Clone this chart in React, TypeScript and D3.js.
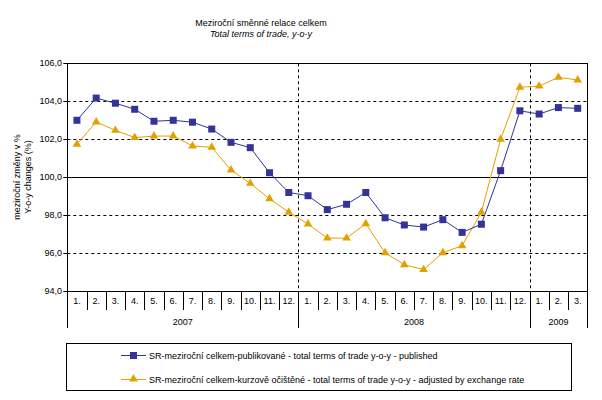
import React from "react";
import * as d3 from "d3";

const months = ["1.", "2.", "3.", "4.", "5.", "6.", "7.", "8.", "9.", "10.", "11.", "12.",
  "1.", "2.", "3.", "4.", "5.", "6.", "7.", "8.", "9.", "10.", "11.", "12.",
  "1.", "2.", "3."];
const years = [
  { label: "2007", start: 0, count: 12 },
  { label: "2008", start: 12, count: 12 },
  { label: "2009", start: 24, count: 3 },
];
const published = [103.0, 104.17, 103.9, 103.58, 102.95, 103.0, 102.9, 102.54, 101.84, 101.56, 100.24, 99.2,
  99.03, 98.3, 98.58, 99.2, 97.87, 97.49, 97.38, 97.77, 97.1, 97.53, 100.35, 103.5,
  103.33, 103.67, 103.63];
const adjusted = [101.74, 102.91, 102.47, 102.09, 102.17, 102.17, 101.65, 101.58, 100.38, 99.68, 98.87, 98.16,
  97.54, 96.8, 96.8, 97.56, 96.03, 95.4, 95.14, 96.03, 96.4, 98.16, 102.0, 104.74,
  104.8, 105.26, 105.12];
const yTicks = [94, 96, 98, 100, 102, 104, 106];
const seriesNames = [
  "SR-meziroční celkem-publikované - total terms of trade y-o-y - published",
  "SR-meziroční celkem-kurzově očištěné - total terms of trade y-o-y - adjusted by exchange rate",
];

const BLUE = "#333399";
const ORANGE = "#E3A100";
const FONT = "'Liberation Sans', Arial, sans-serif";

export default function App() {
  const W = 602, H = 400;
  const left = 67.3, right = 587.3, top = 63.3, bottom = 291.3;
  const x = d3.scaleBand<number>().domain(d3.range(months.length)).range([left, right]).padding(0);
  const y = d3.scaleLinear().domain([94, 106]).range([bottom, top]);
  const cx = (i: number) => (x(i) as number) + x.bandwidth() / 2;
  const line = d3.line<number>().x((_, i) => cx(i)).y((d) => y(d));
  const tri = d3.symbol().type(d3.symbolTriangle).size(32)();

  return (
    <svg width={W} height={H} style={{ position: "absolute", left: 0, top: 0, background: "#fff" }} fontFamily={FONT}>
      <rect x={0} y={0} width={W} height={H} fill="#fff" />
      <text x={261} y={26} textAnchor="middle" fontSize={9}>Meziroční směnné relace celkem</text>
      <text x={261} y={37} textAnchor="middle" fontSize={9} fontStyle="italic">Total terms of trade, y-o-y</text>

      {/* gridlines */}
      {yTicks.filter((t) => t !== 94 && t !== 106).map((t) => (
        <line key={t} x1={left} x2={right} y1={Math.round(y(t)) + 0.5} y2={Math.round(y(t)) + 0.5}
          stroke="#000" strokeWidth={1} strokeDasharray={t === 100 ? undefined : "3,3"} />
      ))}
      {/* year separators in plot */}
      {years.slice(1).map((yr) => (
        <line key={yr.label} x1={Math.round(x(yr.start) as number) + 0.5} x2={Math.round(x(yr.start) as number) + 0.5}
          y1={top} y2={bottom} stroke="#000" strokeDasharray="3,3" />
      ))}
      {/* plot border */}
      <rect x={Math.round(left) + 0.5} y={Math.round(top) + 0.5} width={Math.round(right - left)} height={Math.round(bottom - top)}
        fill="none" stroke="#000" strokeWidth={1} />

      {/* y axis ticks and labels */}
      {yTicks.map((t) => (
        <g key={t}>
          <line x1={left - 4} x2={left} y1={Math.round(y(t)) + 0.5} y2={Math.round(y(t)) + 0.5} stroke="#000" />
          <text x={62} y={y(t) + 3} textAnchor="end" fontSize={9}>{d3.format(".1f")(t).replace(".", ",")}</text>
        </g>
      ))}
      <g transform={`translate(20,177) rotate(-90)`}>
        <text textAnchor="middle" fontSize={9}>meziroční změny v %</text>
        <text y={11} textAnchor="middle" fontSize={9}>Y-o-y changes (%)</text>
      </g>

      {/* category axis */}
      {months.map((m, i) => (
        <g key={i}>
          <line x1={Math.round(x(i) as number) + 0.5} x2={Math.round(x(i) as number) + 0.5} y1={bottom} y2={310} stroke="#000" />
          <text x={cx(i)} y={304} textAnchor="middle" fontSize={9}>{m}</text>
        </g>
      ))}
      <line x1={Math.round(right) + 0.5} x2={Math.round(right) + 0.5} y1={bottom} y2={328} stroke="#000" />
      {years.map((yr) => {
        const x0 = x(yr.start) as number;
        const x1 = yr.start + yr.count >= months.length ? right : (x(yr.start + yr.count) as number);
        return (
          <g key={yr.label}>
            <line x1={Math.round(x0) + 0.5} x2={Math.round(x0) + 0.5} y1={bottom} y2={328} stroke="#000" />
            <text x={(x0 + x1) / 2} y={325} textAnchor="middle" fontSize={9}>{yr.label}</text>
          </g>
        );
      })}

      {/* series */}
      <path d={line(adjusted) || ""} fill="none" stroke={ORANGE} strokeWidth={1} />
      <path d={line(published) || ""} fill="none" stroke={BLUE} strokeWidth={1} />
      {adjusted.map((v, i) => (
        <path key={i} d={tri || ""} transform={`translate(${cx(i)},${y(v)})`} fill={ORANGE} />
      ))}
      {published.map((v, i) => (
        <rect key={i} x={cx(i) - 3.5} y={y(v) - 3.5} width={7} height={7} fill={BLUE} />
      ))}

      {/* legend */}
      <rect x={66.5} y={343.5} width={505} height={47} fill="none" stroke="#000" />
      <line x1={121} x2={146} y1={355.5} y2={355.5} stroke={BLUE} />
      <rect x={130} y={352} width={7} height={7} fill={BLUE} />
      <text x={149} y={359} fontSize={9}>{seriesNames[0]}</text>
      <line x1={121} x2={146} y1={379.5} y2={379.5} stroke={ORANGE} />
      <path d={tri || ""} transform={`translate(133.5,379)`} fill={ORANGE} />
      <text x={149} y={383} fontSize={9}>{seriesNames[1]}</text>
    </svg>
  );
}
